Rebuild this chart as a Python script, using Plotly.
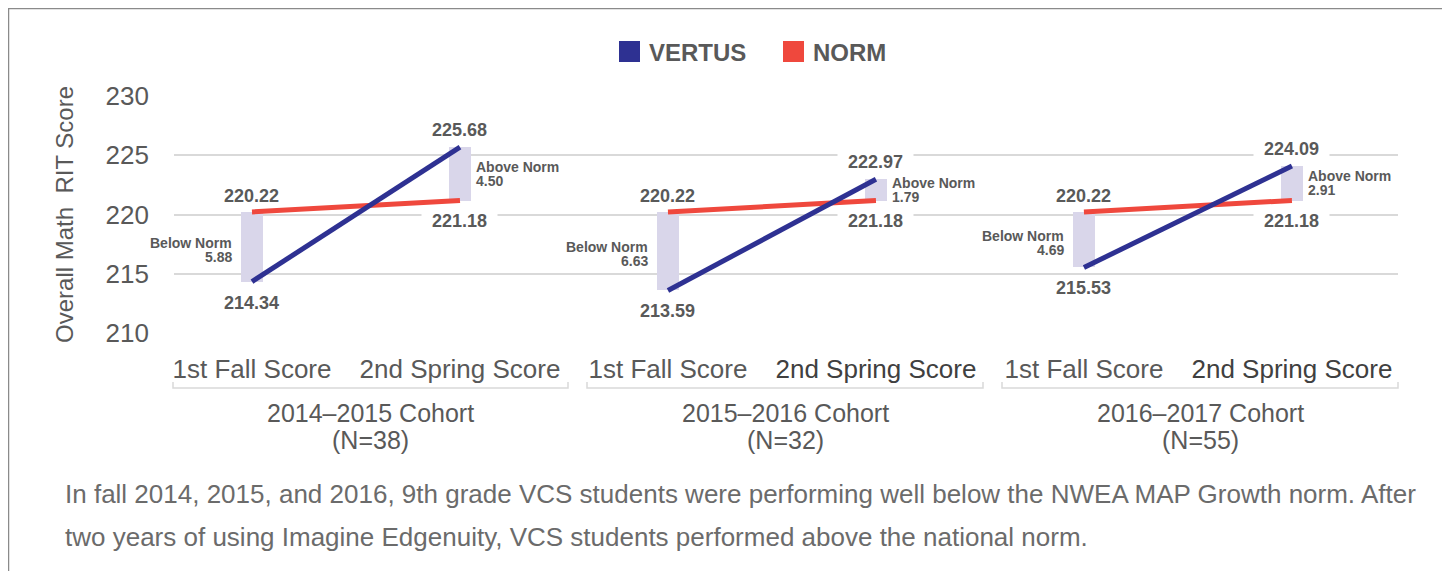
import plotly.graph_objects as go

# ---------------- data ----------------
cohorts = ["2014–2015 Cohort", "2015–2016 Cohort", "2016–2017 Cohort"]
cohort_n = ["(N=38)", "(N=32)", "(N=55)"]
periods = ["1st Fall Score", "2nd Spring Score"]
vertus_fall = [214.34, 213.59, 215.53]
vertus_spring = [225.68, 222.97, 224.09]
norm_fall = [220.22, 220.22, 220.22]
norm_spring = [221.18, 221.18, 221.18]
y_ticks = [210, 215, 220, 225, 230]
caption_lines = [
    "In fall 2014, 2015, and 2016, 9th grade VCS students were performing well below the NWEA MAP Growth norm. After",
    "two years of using Imagine Edgenuity, VCS students performed above the national norm.",
]

# ---------------- styles ----------------
BLUE = "rgb(46,49,146)"
RED = "rgb(239,72,61)"
GAP = "rgb(217,214,234)"
GRID = "#d9d9d9"
TXT = "#595959"
FONT = "Liberation Sans, Arial, sans-serif"

W, H = 1450, 571
OFF = 8  # page offset of the figure (body margin)
# plot area in page pixels
PL, PR, PT, PB = 174, 1398, 96, 333


def px_x(px):
    return (px - PL) / (PR - PL)


def px_y(py):
    return (PB - py) / (PB - PT)


# positions of categories on a numeric axis (cohort * 2 + period)
xs_fall = [2 * i for i in range(len(cohorts))]
xs_spring = [2 * i + 1 for i in range(len(cohorts))]


def seg(a, b):
    out = []
    for i in range(len(a)):
        out += [a[i], b[i], None]
    return out


fig = go.Figure()

# gap bars (below/above norm)
gap_x = xs_fall + xs_spring
gap_lo = [min(v, n) for v, n in zip(vertus_fall, norm_fall)] + [min(v, n) for v, n in zip(vertus_spring, norm_spring)]
gap_hi = [max(v, n) for v, n in zip(vertus_fall, norm_fall)] + [max(v, n) for v, n in zip(vertus_spring, norm_spring)]
fig.add_trace(go.Bar(
    x=gap_x, y=[h - l for h, l in zip(gap_hi, gap_lo)], base=gap_lo,
    width=0.106, marker=dict(color=GAP, line=dict(width=0)),
    showlegend=False, hoverinfo="skip"))

fig.add_trace(go.Scatter(
    x=seg(xs_fall, xs_spring), y=seg(norm_fall, norm_spring), mode="lines",
    name="NORM", line=dict(color=RED, width=5), showlegend=False))
fig.add_trace(go.Scatter(
    x=seg(xs_fall, xs_spring), y=seg(vertus_fall, vertus_spring), mode="lines",
    name="VERTUS", line=dict(color=BLUE, width=5), showlegend=False))

ann = []
pad = "\u00a0\u00a0"
lab_font = dict(family=FONT, size=18, color=TXT)
for i in range(len(cohorts)):
    # value labels
    for x, y, ys in [(xs_fall[i], norm_fall[i], 16), (xs_fall[i], vertus_fall[i], -21),
                     (xs_spring[i], vertus_spring[i], 17), (xs_spring[i], norm_spring[i], -20)]:
        ann.append(dict(x=x, y=y, xref="x", yref="y", text="<b>" + pad + f"{y:.2f}" + pad + "</b>",
                        showarrow=False, yshift=ys, font=lab_font, bgcolor="white",
                        xanchor="center", yanchor="middle", borderpad=0))
    # below norm
    mid = (vertus_fall[i] + norm_fall[i]) / 2
    diff = norm_fall[i] - vertus_fall[i]
    for t, ys in [("Below Norm", 4), (f"{diff:.2f}", -10)]:
        ann.append(dict(x=xs_fall[i], y=mid, xref="x", yref="y", text="<b>" + t + "</b>",
                        showarrow=False, xanchor="right", yanchor="middle", xshift=-18, yshift=ys,
                        font=dict(family=FONT, size=14, color=TXT)))
    # above norm
    mid = (vertus_spring[i] + norm_spring[i]) / 2
    diff = vertus_spring[i] - norm_spring[i]
    for t, ys in [("Above Norm", 7), (f"{diff:.2f}", -7)]:
        ann.append(dict(x=xs_spring[i], y=mid, xref="x", yref="y", text="<b>" + t + "</b>",
                        showarrow=False, xanchor="left", yanchor="middle", xshift=14, yshift=ys,
                        font=dict(family=FONT, size=14, color=TXT)))

# cohort group labels and brackets
brackets = [(173, 568), (587, 983), (1002, 1398)]
shapes = []
for i, (a, b) in enumerate(brackets):
    shapes.append(dict(type="path", xref="paper", yref="paper",
                       path=f"M {px_x(a)} {px_y(382)} L {px_x(a)} {px_y(388)} L {px_x(b)} {px_y(388)} L {px_x(b)} {px_y(382)}",
                       line=dict(color=GRID, width=1.5)))
    cx = px_x((a + b) / 2)
    ann.append(dict(x=cx, y=px_y(413), xref="paper", yref="paper", text=cohorts[i], showarrow=False,
                    xanchor="center", yanchor="middle", font=dict(family=FONT, size=25, color=TXT)))
    ann.append(dict(x=cx, y=px_y(440), xref="paper", yref="paper", text=cohort_n[i], showarrow=False,
                    xanchor="center", yanchor="middle", font=dict(family=FONT, size=25, color=TXT)))

# legend (manual)
for (x0, name, col) in [(619, "VERTUS", BLUE), (783, "NORM", RED)]:
    shapes.append(dict(type="rect", xref="paper", yref="paper", x0=px_x(x0), x1=px_x(x0 + 21),
                       y0=px_y(62), y1=px_y(41), fillcolor=col, line=dict(width=0)))
    ann.append(dict(x=px_x(x0 + 28), y=px_y(52), xref="paper", yref="paper", text="<b>" + name + "</b>",
                    showarrow=False, xanchor="left", yanchor="middle",
                    font=dict(family=FONT, size=24, color=TXT)))

# caption
for line, yy in zip(caption_lines, [494, 537]):
    ann.append(dict(x=px_x(63), y=px_y(yy), xref="paper", yref="paper", text=line, showarrow=False,
                    xanchor="left", yanchor="middle", align="left",
                    font=dict(family=FONT, size=26, color="#6b6b6b")))

# border
shapes.append(dict(type="rect", xref="paper", yref="paper", x0=px_x(8.5), x1=px_x(1447),
                   y0=px_y(700), y1=px_y(8.5), line=dict(color="#8a8a8a", width=1.5),
                   fillcolor="rgba(0,0,0,0)"))

tick_vals = []
tick_text = []
for i in range(len(cohorts)):
    for p, xv in zip(periods, [xs_fall[i], xs_spring[i]]):
        tick_vals.append(xv)
        if i > 0 and p == periods[1]:
            tick_text.append(f"<span style='color:#404040'>{p}</span>")
        else:
            tick_text.append(p)

fig.update_layout(
    width=W, height=H,
    margin=dict(l=PL - OFF, r=W - (PR - OFF), t=PT - OFF, b=H - (PB - OFF)),
    paper_bgcolor="white", plot_bgcolor="white",
    bargap=0, showlegend=False,
    shapes=shapes, annotations=ann,
    font=dict(family=FONT, color=TXT),
)
fig.update_xaxes(range=[-0.375, 5.51], tickvals=tick_vals, ticktext=tick_text, showgrid=False,
                 zeroline=False, showline=False, ticks="", ticklabelstandoff=18,
                 tickfont=dict(family=FONT, size=26, color=TXT))
fig.update_yaxes(range=[210, 230], tickvals=y_ticks, showgrid=True, gridcolor=GRID, gridwidth=2,
                 zeroline=False, showline=False, ticks="", ticklabelstandoff=24,
                 tickfont=dict(family=FONT, size=26, color=TXT),
                 title=dict(text="Overall Math\u00a0 RIT Score", standoff=25,
                            font=dict(family=FONT, size=24, color=TXT)))

fig.write_html("out.html")
